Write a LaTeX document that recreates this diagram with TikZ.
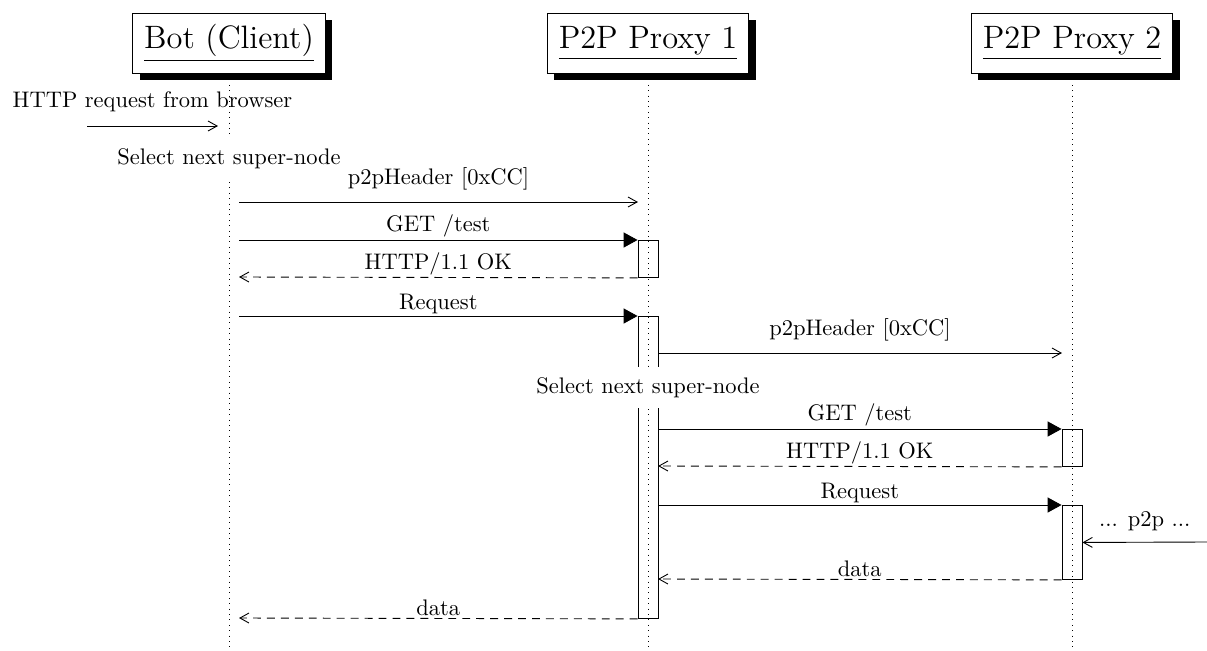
\documentclass[tikz,border=0pt]{standalone}
\usetikzlibrary{arrows.meta,shadows}
\def\pxu{0.44444pt}
\begin{document}
\begin{tikzpicture}[x=\pxu, y=-\pxu,
  title/.style={draw, fill=white, font=\Large, inner xsep=5.1pt, minimum height=60*\pxu,
    drop shadow={shadow xshift=3.1pt, shadow yshift=-3.1pt, fill=black, opacity=1}},
  life/.style={dotted},
  bar/.style={draw, minimum width=20*\pxu, inner sep=0pt, anchor=north},
  msg/.style={-{Straight Barb[length=4pt,width=4.4pt]}},
  call/.style={-{Triangle[length=6.2pt,width=6.7pt]}},
  ret/.style={msg, dash pattern=on 3.5pt off 2.7pt},
  lbl/.style={midway, above, inner sep=0.9pt},
  note/.style={fill=white, inner xsep=2pt, inner ysep=4.7pt}]
\useasboundingbox (0,0) rectangle (1207,650);
% lifelines
\coordinate (l1e) at (229,649);
\coordinate (l2e) at (648,649);
\coordinate (l3e) at (1072,649);
\coordinate (l1s) at (229,74);
\coordinate (l2s) at (648,74);
\coordinate (l3s) at (1072,74);
\draw[life] (l1s) -- (l1e);
\draw[life] (l2s) -- (l2e);
\draw[life] (l3s) -- (l3e);
% instances
\node[title] (bot) at (229,43) {\underline{Bot (Client)}};
\node[title] (p1) at (648,43) {\underline{P2P Proxy 1}};
\node[title] (p2) at (1072,43) {\underline{P2P Proxy 2}};
% activation bars
\node[bar, minimum height=37*\pxu] (a1) at (648,240) {};
\node[bar, minimum height=302*\pxu] (a2) at (648,316) {};
\node[bar, minimum height=37*\pxu] (a3) at (1072,429) {};
\node[bar, minimum height=74*\pxu] (a4) at (1072,505) {};
% message end points
\coordinate (b0) at (87,126);
\coordinate (b0e) at (218,126);
\coordinate (b1) at (239,202);
\coordinate (p1in) at (638,202);
\coordinate (b2) at (239,240);
\coordinate (b3) at (239,277);
\coordinate (b4) at (239,316);
\coordinate (q1) at (658,353);
\coordinate (r1) at (1062,353);
\coordinate (q2) at (658,429);
\coordinate (q3) at (658,466);
\coordinate (q4) at (658,505);
\coordinate (ext) at (1207,542);
\coordinate (q5) at (658,579);
\coordinate (b5) at (239,618);
% messages
\draw[msg] (b0) -- (b0e) node[lbl, yshift=5.4pt] {HTTP request from browser};
\draw[msg] (b1) -- (p1in) node[lbl, yshift=4.2pt] {p2pHeader [0xCC]};
\draw[call] (b2) -- (a1.north west) node[lbl] {GET /test};
\draw[ret] (a1.south west) -- (b3) node[lbl] {HTTP/1.1 OK};
\draw[call] (b4) -- (a2.north west) node[lbl] {Request};
\draw[msg] (q1) -- (r1) node[lbl, yshift=4.2pt] {p2pHeader [0xCC]};
\draw[call] (q2) -- (a3.north west) node[lbl] {GET /test};
\draw[ret] (a3.south west) -- (q3) node[lbl] {HTTP/1.1 OK};
\draw[call] (q4) -- (a4.north west) node[lbl] {Request};
\draw[msg] (ext) -- (a4.east) node[lbl, yshift=3.8pt] {... p2p ...};
\draw[ret] (a4.south west) -- (q5) node[lbl] {data};
\draw[ret] (a2.south west) -- (b5) node[lbl] {data};
% notes
\node[note] (s1) at (229,159) {Select next super-node};
\node[note] (s2) at (648,387.5) {Select next super-node};
\end{tikzpicture}
\end{document}
